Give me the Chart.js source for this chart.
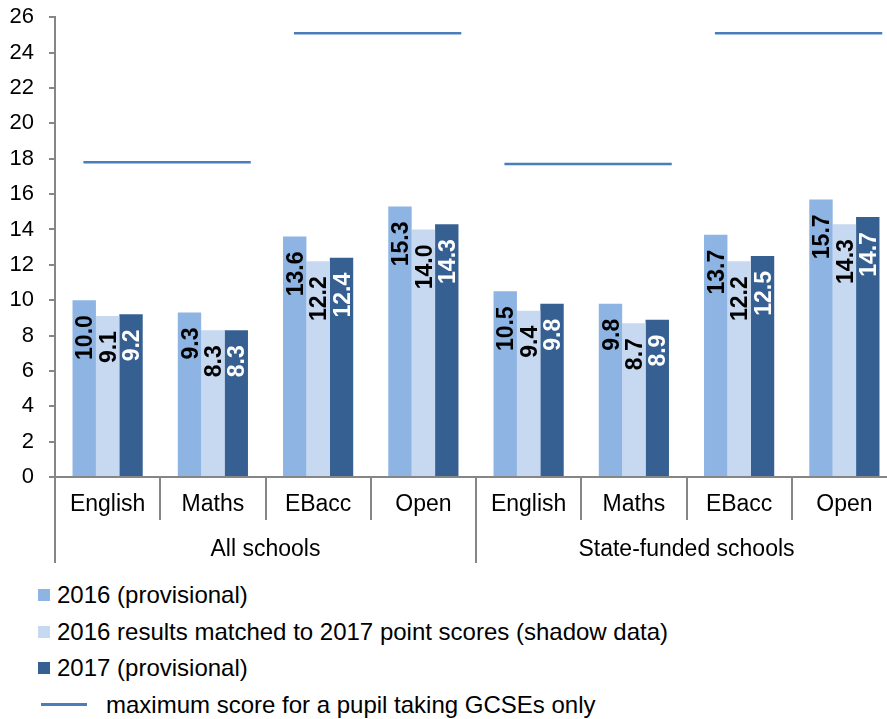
<!DOCTYPE html>
<html>
<head>
<meta charset="utf-8">
<script src="https://cdn.jsdelivr.net/npm/chart.js@4/dist/chart.umd.min.js"></script>
<style>
  html, body { margin: 0; padding: 0; background: #fff; overflow: hidden; width: 887px; height: 719px; }
  #wrap { position: absolute; left: 0; top: 0; width: 897px; height: 570px; }
  #legend { position: absolute; left: 0; top: 0; font-family: 'Liberation Sans', Arial, sans-serif; font-size: 24px; color: #000; }
  .row { position: absolute; left: 38px; height: 36px; line-height: 36px; white-space: nowrap; display: flex; align-items: center; }
  .sq { width: 12px; height: 12px; margin-right: 7px; flex: none; }
  .ln { width: 46px; height: 2.5px; margin-left: 3px; margin-right: 19px; flex: none; }
</style>
</head>
<body>
<div id="wrap"><canvas id="c"></canvas></div>
<div id="legend"></div>
<script>
const categories = ['English', 'Maths', 'EBacc', 'Open', 'English', 'Maths', 'EBacc', 'Open'];
const groups = ['All schools', 'State-funded schools'];
const series2016 = [10.0, 9.3, 13.6, 15.3, 10.5, 9.8, 13.7, 15.7];
const seriesShadow = [9.1, 8.3, 12.2, 14.0, 9.4, 8.7, 12.2, 14.3];
const series2017 = [9.2, 8.3, 12.4, 14.3, 9.8, 8.9, 12.5, 14.7];
const maxScore = [17.8, 25.1, 17.7, 25.1];
const seriesNames = ['2016 (provisional)', '2016 results matched to 2017 point scores (shadow data)', '2017 (provisional)', 'maximum score for a pupil taking GCSEs only'];
const yMin = 0, yMax = 26, yStep = 2;

const FONT = "'Liberation Sans', Arial, sans-serif";
Chart.defaults.font.family = FONT;
const GRAY = '#868686';
const colors = ['#8DB4E2', '#C6D9F1', '#376092'];
const lineColor = '#4A7EBB';
const labelColors = ['#000000', '#000000', '#FFFFFF'];

// each maximum-score line spans one pair of categories (in category index units on the x scale)
const linePts = [];
maxScore.forEach((v, i) => {
  linePts.push({ x: 2 * i - 0.23, y: v });
  linePts.push({ x: 2 * i + 1.36, y: v });
  linePts.push({ x: 2 * i + 1.5, y: null });
});

const barLabels = {
  id: 'barLabels',
  afterDatasetsDraw(chart) {
    const ctx = chart.ctx;
    ctx.save();
    ctx.font = 'bold 23px ' + FONT;
    ctx.textAlign = 'right';
    ctx.textBaseline = 'alphabetic';
    for (let d = 0; d < 3; d++) {
      const meta = chart.getDatasetMeta(d);
      const ds = chart.data.datasets[d];
      meta.data.forEach((el, i) => {
        ctx.save();
        ctx.translate(el.x + 8.2, el.y + 15);
        ctx.rotate(-Math.PI / 2);
        ctx.fillStyle = labelColors[d];
        ctx.fillText(ds.data[i].toFixed(1), 0, 0);
        ctx.restore();
      });
    }
    ctx.restore();
  }
};

const barOpts = { xAxisID: 'x', yAxisID: 'y', categoryPercentage: 0.667, barPercentage: 1.0 };
const chart = new Chart(document.getElementById('c'), {
  type: 'bar',
  data: {
    labels: categories,
    datasets: [
      Object.assign({ label: seriesNames[0], data: series2016, backgroundColor: colors[0] }, barOpts),
      Object.assign({ label: seriesNames[1], data: seriesShadow, backgroundColor: colors[1] }, barOpts),
      Object.assign({ label: seriesNames[2], data: series2017, backgroundColor: colors[2] }, barOpts),
      { type: 'line', label: seriesNames[3], data: linePts, parsing: false, xAxisID: 'x', yAxisID: 'y',
        borderColor: lineColor, backgroundColor: lineColor, borderWidth: 2.5, pointRadius: 0, spanGaps: false, fill: false }
    ]
  },
  options: {
    responsive: true,
    maintainAspectRatio: false,
    animation: false,
    events: [],
    layout: { padding: { top: 17.3, left: 0, right: 0, bottom: 7 } },
    plugins: { legend: { display: false }, tooltip: { enabled: false } },
    scales: {
      y: {
        type: 'linear', min: yMin, max: yMax,
        ticks: { stepSize: yStep, font: { size: 22 }, color: '#000', padding: 15 },
        grid: { drawOnChartArea: false, drawTicks: true, tickLength: 6, color: GRAY, lineWidth: 2 },
        border: { display: true, color: GRAY, width: 2 },
        afterFit(s) { s.width = 55; s.paddingTop = 0; s.paddingBottom = 0; }
      },
      x: {
        type: 'category', position: 'bottom', weight: 0, offset: true,
        ticks: { font: { size: 23 }, color: '#000', padding: -28.8, maxRotation: 0, autoSkip: false },
        grid: { offset: true, drawOnChartArea: false, drawTicks: true, tickLength: 43, color: GRAY, lineWidth: 2 },
        border: { display: true, color: GRAY, width: 2 },
        afterFit(s) { s.height = 43; }
      },
      xg: {
        type: 'category', position: 'bottom', weight: 1, offset: true, labels: groups,
        ticks: { font: { size: 23 }, color: '#000', padding: -27, maxRotation: 0, autoSkip: false },
        grid: { offset: true, drawOnChartArea: false, drawTicks: true, tickLength: 43, color: GRAY, lineWidth: 2 },
        border: { display: false },
        afterFit(s) { s.height = 43; }
      }
    }
  },
  plugins: [barLabels]
});

// legend built from the chart's datasets
const legend = document.getElementById('legend');
chart.data.datasets.forEach((ds, i) => {
  const row = document.createElement('div');
  row.className = 'row';
  row.style.top = (577 + i * 36.5) + 'px';
  const sw = document.createElement('span');
  if (ds.type === 'line') { sw.className = 'ln'; sw.style.background = ds.borderColor; }
  else { sw.className = 'sq'; sw.style.background = ds.backgroundColor; }
  const tx = document.createElement('span');
  tx.textContent = ds.label;
  row.appendChild(sw);
  row.appendChild(tx);
  legend.appendChild(row);
});
</script>
</body>
</html>
